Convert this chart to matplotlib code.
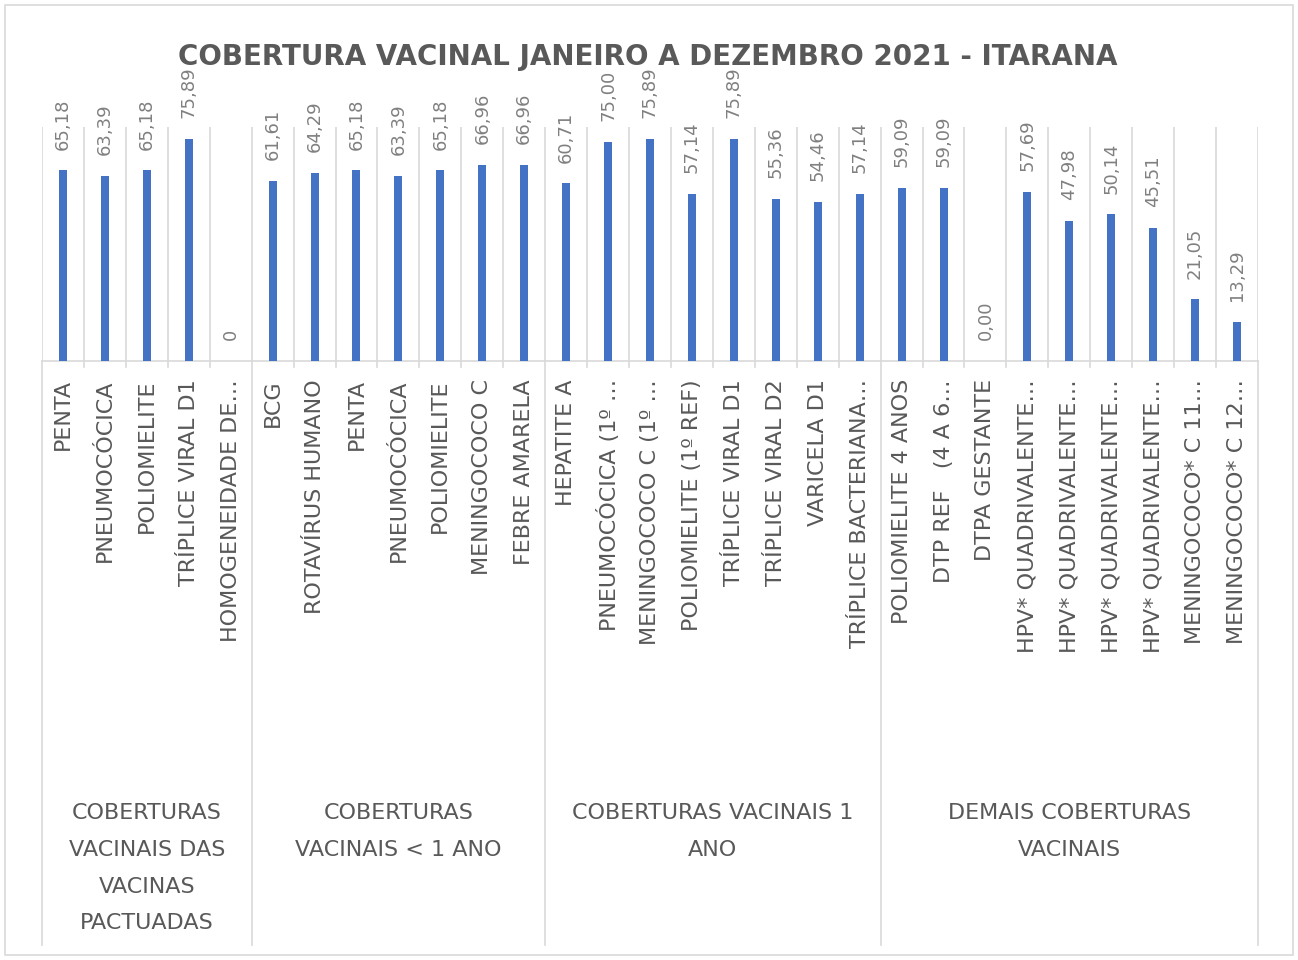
import matplotlib
matplotlib.use("Agg")
import matplotlib.pyplot as plt
import matplotlib.transforms as mtransforms
from matplotlib.patches import Rectangle

plt.rcParams['font.family'] = ['DejaVu Sans']

categories = [
    "PENTA", "PNEUMOCÓCICA", "POLIOMIELITE", "TRÍPLICE VIRAL D1", "HOMOGENEIDADE DE…",
    "BCG", "ROTAVÍRUS HUMANO", "PENTA", "PNEUMOCÓCICA", "POLIOMIELITE", "MENINGOCOCO C",
    "FEBRE AMARELA",
    "HEPATITE A", "PNEUMOCÓCICA (1º …", "MENINGOCOCO C (1º …", "POLIOMIELITE (1º REF)",
    "TRÍPLICE VIRAL D1", "TRÍPLICE VIRAL D2", "VARICELA D1", "TRÍPLICE BACTERIANA…",
    "POLIOMIELITE 4 ANOS", "DTP REF   (4 A 6…", "DTPA GESTANTE", "HPV* QUADRIVALENTE…",
    "HPV* QUADRIVALENTE…", "HPV* QUADRIVALENTE…", "HPV* QUADRIVALENTE…",
    "MENINGOCOCO* C 11…", "MENINGOCOCO* C 12…",
]
values = [
    65.18, 63.39, 65.18, 75.89, 0,
    61.61, 64.29, 65.18, 63.39, 65.18, 66.96, 66.96,
    60.71, 75.00, 75.89, 57.14, 75.89, 55.36, 54.46, 57.14,
    59.09, 59.09, 0.00, 57.69, 47.98, 50.14, 45.51, 21.05, 13.29,
]
value_labels = [
    "65,18", "63,39", "65,18", "75,89", "0",
    "61,61", "64,29", "65,18", "63,39", "65,18", "66,96", "66,96",
    "60,71", "75,00", "75,89", "57,14", "75,89", "55,36", "54,46", "57,14",
    "59,09", "59,09", "0,00", "57,69", "47,98", "50,14", "45,51", "21,05", "13,29",
]
group_names = [
    "COBERTURAS\nVACINAIS DAS\nVACINAS\nPACTUADAS",
    "COBERTURAS\nVACINAIS < 1 ANO",
    "COBERTURAS VACINAIS 1\nANO",
    "DEMAIS COBERTURAS\nVACINAIS",
]
group_sizes = [5, 7, 8, 9]
title = "COBERTURA VACINAL JANEIRO A DEZEMBRO 2021 - ITARANA"

W, H = 1298, 960
fig = plt.figure(figsize=(W / 100, H / 100), dpi=100)
fig.patch.set_facecolor("white")

# outer chart border
fig.patches.append(Rectangle((5 / W, 5 / H), 1 - 10 / W, 1 - 10 / H, transform=fig.transFigure,
                             fill=False, edgecolor="#d9d9d9", lw=1.2))

ax_left, ax_right = 42 / W, 1258 / W
ax_bottom, ax_top = (H - 361) / H, (H - 127) / H
ax = fig.add_axes([ax_left, ax_bottom, ax_right - ax_left, ax_top - ax_bottom])

n = len(values)
x = list(range(n))
ax.bar(x, values, width=0.19, color="#4472C4", zorder=3)
ax.set_xlim(-0.5, n - 0.5)
ax.set_ylim(0, 80)
ax.set_xticks([])
ax.set_yticks([])
for s in ["top", "left", "right"]:
    ax.spines[s].set_visible(False)
ax.spines["bottom"].set_color("#d9d9d9")
ax.spines["bottom"].set_linewidth(1.2)

grid_c = "#d9d9d9"
for b in range(n + 1):
    ax.axvline(b - 0.5, color=grid_c, lw=1.2, zorder=1)

# data labels
for xi, v, lab in zip(x, values, value_labels):
    ax.annotate(lab, xy=(xi, v), xytext=(0, 15), textcoords="offset points",
                rotation=90, ha="center", va="bottom", fontsize=13, color="#808080",
                annotation_clip=False, zorder=4)

# category labels
for xi, c in zip(x, categories):
    ax.annotate(c, xy=(xi, 0), xycoords=("data", "axes fraction"), xytext=(0, -13),
                textcoords="offset points", rotation=90, ha="center", va="top",
                fontsize=16, color="#595959", annotation_clip=False)

# tick marks and group separators below axis
bt = mtransforms.blended_transform_factory(ax.transData, fig.transFigure)
bounds = [0]
for g in group_sizes:
    bounds.append(bounds[-1] + g)
for b in range(n + 1):
    xb = b - 0.5
    if b in bounds:
        fig.add_artist(plt.Line2D([xb, xb], [ax_bottom, 15 / H], transform=bt, color=grid_c, lw=1.2))
    else:
        fig.add_artist(plt.Line2D([xb, xb], [ax_bottom, ax_bottom - 6 / H], transform=bt, color=grid_c, lw=1.2))

# group labels
for i, name in enumerate(group_names):
    cx = (bounds[i] + bounds[i + 1] - 1) / 2
    fig.text(cx, (H - 803) / H, name, transform=bt, ha="center", va="top",
             fontsize=16, color="#595959", linespacing=2.05, multialignment="center")

fig.text(0.4992, (H - 57) / H, title, ha="center", va="center", fontsize=20,
         fontweight="bold", color="#595959")

fig.savefig("out.png", dpi=100)
